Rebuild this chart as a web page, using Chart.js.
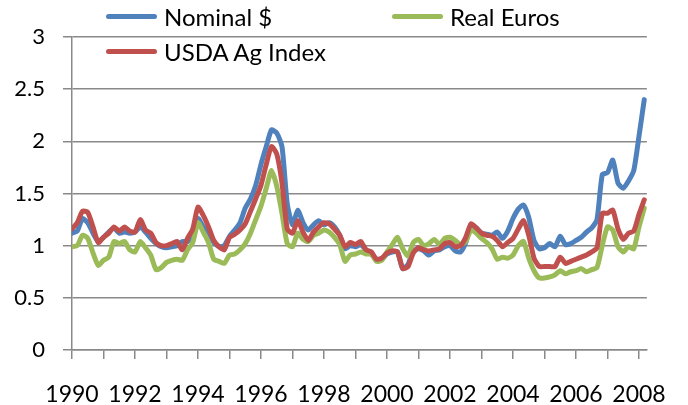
<!DOCTYPE html>
<html>
<head>
<meta charset="utf-8">
<script src="https://cdn.jsdelivr.net/npm/chart.js@4"></script>
<style>
  html, body { margin: 0; padding: 0; background: #fff; }
  #wrap { position: relative; width: 688px; height: 405px; }
  .leg { position: absolute; display: flex; align-items: center; font-family: Lato, "Open Sans", sans-serif; font-size: 24px; color: #000; white-space: nowrap; }
  .leg i { display: inline-block; width: 51px; height: 5px; border-radius: 3px; margin-right: 7px; }
</style>
</head>
<body>
<div id="wrap">
  <canvas id="c"></canvas>
  <div class="leg" style="left:106px; top:2px;"><i style="background:#4F81BD"></i>Nominal $</div>
  <div class="leg" style="left:392px; top:2px;"><i style="background:#9BBB59"></i>Real Euros</div>
  <div class="leg" style="left:106px; top:37px;"><i style="background:#C0504D"></i>USDA Ag Index</div>
</div>
<script>
// Index values, one point every two months from Jan 1990 to early 2008.
const xStart = 1990;
const xStep = 1 / 6;
const xTicks = [1990, 1992, 1994, 1996, 1998, 2000, 2002, 2004, 2006, 2008];
const yTicks = [0, 0.5, 1, 1.5, 2, 2.5, 3];

const nominal = [
  1.12, 1.14, 1.26, 1.22, 1.12, 1.04,   // 1990
  1.08, 1.13, 1.17, 1.12, 1.13, 1.12,   // 1991
  1.13, 1.18, 1.13, 1.07, 1.02, 0.99,   // 1992
  0.98, 0.99, 1.00, 1.04, 1.04, 1.10,   // 1993
  1.26, 1.18, 1.13, 1.03, 0.99, 1.00,   // 1994
  1.09, 1.15, 1.22, 1.36, 1.45, 1.58,   // 1995
  1.78, 1.95, 2.11, 2.08, 1.95, 1.40,   // 1996
  1.20, 1.34, 1.22, 1.15, 1.20, 1.24,   // 1997
  1.20, 1.22, 1.18, 1.10, 0.97, 1.00,   // 1998
  0.99, 1.01, 0.96, 0.92, 0.87, 0.87,   // 1999
  0.92, 0.94, 0.94, 0.78, 0.82, 0.95,   // 2000
  0.97, 0.95, 0.91, 0.95, 0.96, 0.99,   // 2001
  1.00, 0.95, 0.94, 1.03, 1.20, 1.17,   // 2002
  1.12, 1.11, 1.10, 1.13, 1.07, 1.14,   // 2003
  1.26, 1.35, 1.39, 1.27, 1.05, 0.97,   // 2004
  0.98, 1.02, 0.99, 1.09, 1.01, 1.02,   // 2005
  1.05, 1.08, 1.13, 1.17, 1.25, 1.68,   // 2006
  1.70, 1.82, 1.60, 1.55, 1.62, 1.72,   // 2007
  2.05, 2.40                            // 2008
];

const realEuros = [
  0.99, 1.00, 1.10, 1.07, 0.93, 0.81,
  0.86, 0.89, 1.04, 1.02, 1.04, 0.96,
  0.94, 1.04, 0.98, 0.91, 0.77, 0.79,
  0.84, 0.86, 0.87, 0.86, 0.96, 1.03,
  1.22, 1.13, 1.03, 0.87, 0.85, 0.83,
  0.91, 0.92, 0.96, 1.02, 1.12, 1.25,
  1.38, 1.55, 1.72, 1.57, 1.31, 1.02,
  0.99, 1.12, 1.06, 1.04, 1.10, 1.12,
  1.15, 1.13, 1.08, 1.01, 0.85, 0.91,
  0.92, 0.94, 0.92, 0.92, 0.85, 0.86,
  0.94, 1.01, 1.08, 0.97, 0.90, 1.03,
  1.06, 1.00, 1.02, 1.06, 1.01, 1.07,
  1.08, 1.05, 1.01, 1.04, 1.15, 1.12,
  1.07, 1.03, 0.97, 0.87, 0.89, 0.88,
  0.91, 1.00, 1.04, 0.88, 0.76, 0.69,
  0.69, 0.70, 0.72, 0.76, 0.73, 0.75,
  0.76, 0.78, 0.75, 0.77, 0.79, 1.00,
  1.18, 1.15, 0.99, 0.94, 0.99, 0.97,
  1.18, 1.36
];

const usdaIndex = [
  1.16, 1.22, 1.33, 1.32, 1.18, 1.03,
  1.08, 1.12, 1.18, 1.14, 1.18, 1.14,
  1.13, 1.25, 1.15, 1.12, 1.03, 1.00,
  1.00, 1.02, 1.04, 0.96, 1.07, 1.16,
  1.37, 1.29, 1.18, 1.05, 0.99, 0.96,
  1.08, 1.11, 1.15, 1.21, 1.33, 1.45,
  1.58, 1.78, 1.95, 1.88, 1.60, 1.16,
  1.12, 1.24, 1.13, 1.05, 1.13, 1.18,
  1.22, 1.21, 1.16, 1.10, 0.99, 1.03,
  1.01, 1.04, 0.96, 0.94, 0.87, 0.88,
  0.93, 0.95, 0.94, 0.78, 0.80, 0.93,
  0.98, 0.96, 0.95, 0.96, 0.97, 1.02,
  1.03, 0.99, 1.00, 1.08, 1.21, 1.17,
  1.12, 1.10, 1.09, 1.05, 0.99, 1.03,
  1.07, 1.16, 1.24, 1.10, 0.88, 0.80,
  0.80, 0.80, 0.80, 0.89, 0.83, 0.85,
  0.87, 0.89, 0.91, 0.94, 0.98, 1.31,
  1.31, 1.34, 1.16, 1.06, 1.12, 1.14,
  1.30, 1.44
];

function points(values) {
  return values.map(function (v, i) { return { x: xStart + i * xStep, y: v }; });
}

function series(label, values, color, order) {
  return {
    label: label, data: points(values), order: order,
    borderColor: color, backgroundColor: color, borderWidth: 5,
    borderCapStyle: "round", borderJoinStyle: "round",
    pointRadius: 0, tension: 0.2, fill: false
  };
}

const AXIS = "#898989";
const fontFamily = "Lato, 'Open Sans', sans-serif";

new Chart(document.getElementById("c"), {
  type: "line",
  data: {
    datasets: [
      series("Nominal $", nominal, "#4F81BD", 2),
      series("Real Euros", realEuros, "#9BBB59", 1),
      series("USDA Ag Index", usdaIndex, "#C0504D", 0)
    ]
  },
  options: {
    responsive: true, maintainAspectRatio: false, animation: false,
    layout: { padding: { top: 37, right: 23, left: 0, bottom: 0 } },
    plugins: { legend: { display: false }, tooltip: { enabled: false } },
    scales: {
      x: {
        type: "linear", min: 1990, max: 2008.25,
        afterFit: function (s) { s.height = 55; },
        grid: { drawOnChartArea: false, drawTicks: true, tickLength: 9, color: AXIS, lineWidth: 1.5 },
        border: { color: AXIS, width: 1.5 },
        ticks: {
          stepSize: 1, includeBounds: false, autoSkip: false, maxRotation: 0, padding: 22,
          color: "#000", font: { family: fontFamily, size: 23 },
          callback: function (v) { return xTicks.indexOf(v) >= 0 ? String(v) : ""; }
        }
      },
      y: {
        min: 0, max: 3,
        afterFit: function (s) { s.width = 72; },
        grid: { color: AXIS, lineWidth: 1.5, tickLength: 9 },
        border: { color: AXIS, width: 1.5 },
        ticks: {
          stepSize: 0.5, padding: 18, color: "#000", font: { family: fontFamily, size: 22 },
          callback: function (v) { return yTicks.indexOf(v) >= 0 ? String(v) : ""; }
        }
      }
    }
  }
});
</script>
</body>
</html>
